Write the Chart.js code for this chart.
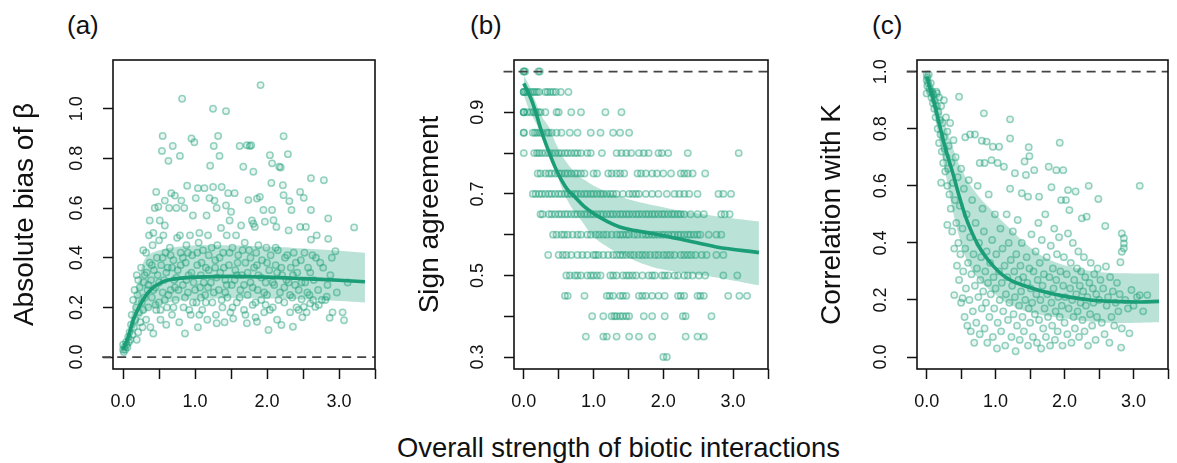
<!DOCTYPE html>
<html>
<head>
<meta charset="utf-8">
<script src="https://cdn.jsdelivr.net/npm/chart.js@4.4.1/dist/chart.umd.min.js"></script>
<style>
  body { margin: 0; width: 1177px; height: 463px; overflow: hidden; background: #fff; position: relative;
         font-family: "Liberation Sans", Arial, sans-serif; color: #111; }
  canvas { position: absolute; top: 0; }
  .txt { position: absolute; white-space: nowrap; line-height: normal; }
  .panel { font-size: 26px; top: 10px; }
</style>
</head>
<body>
<div class="txt panel" style="left:67px">(a)</div>
<div class="txt panel" style="left:470px">(b)</div>
<div class="txt panel" style="left:872px">(c)</div>
<div class="txt" style="left:397px; top:432px; font-size:27.4px">Overall strength of biotic interactions</div>
<canvas id="panelA" width="390" height="463" style="left:0"></canvas>
<canvas id="panelB" width="390" height="463" style="left:390px"></canvas>
<canvas id="panelC" width="400" height="463" style="left:780px"></canvas>
<script>
// shared x axis: ticks every 0.5, labels on whole numbers
const xTickVals = [0, 0.5, 1, 1.5, 2, 2.5, 3, 3.5];
const xTickLabels = ['0.0', '', '1.0', '', '2.0', '', '3.0', ''];

// (a) absolute bias of beta
const yTicksA = [0, 0.2, 0.4, 0.6, 0.8, 1.0];
const yLabelsA = ['0.0', '0.2', '0.4', '0.6', '0.8', '1.0'];
const biasPts = [
  [0,0.03],[0,0.05],[0.01,0.02],[0.02,0.04],[0.03,0.03],[0.04,0.06],[0.05,0.05],[0.06,0.04],[0.07,0.08],[0.08,0.06],[0.09,0.1],[0.1,0.07],
  [0.11,0.13],[0.12,0.17],[0.13,0.09],[0.14,0.23],[0.15,0.12],[0.16,0.27],[0.17,0.15],[0.18,0.2],[0.19,0.33],[0.19,0.07],[0.2,0.25],[0.21,0.31],[0.21,0.1],[0.22,0.18],[0.23,0.28],[0.24,0.14],[0.25,0.36],[0.26,0.22],[0.27,0.12],[0.28,0.43],[0.28,0.19],[0.29,0.3],[0.3,0.24],
  [0.32,0.42],[0.32,0.15],[0.33,0.34],[0.34,0.27],[0.35,0.2],[0.36,0.49],[0.37,0.55],[0.37,0.38],[0.38,0.12],[0.39,0.31],[0.4,0.24],[0.41,0.45],[0.42,0.095],[0.42,0.5],[0.43,0.35],[0.44,0.6],[0.45,0.28],[0.46,0.665],[0.46,0.19],[0.47,0.4],[0.48,0.33],[0.49,0.605],[0.5,0.22],[0.5,0.47],[0.51,0.55],[0.52,0.15],[0.53,0.37],[0.54,0.83],[0.55,0.89],[0.55,0.26],[0.56,0.49],[0.57,0.31],[0.58,0.53],[0.58,0.63],[0.59,0.42],[0.6,0.13],
  [0.61,0.2],[0.62,0.36],[0.63,0.79],[0.64,0.6],[0.65,0.44],[0.66,0.27],[0.67,0.66],[0.68,0.17],[0.69,0.85],[0.7,0.39],[0.71,0.31],[0.72,0.65],[0.73,0.23],[0.74,0.6],[0.75,0.48],[0.76,0.35],[0.78,0.14],[0.79,0.81],[0.79,0.49],[0.8,0.42],[0.81,0.63],[0.82,1.04],[0.83,0.29],[0.84,0.2],[0.85,0.6],[0.86,0.095],[0.87,0.38],[0.88,0.45],[0.89,0.69],[0.9,0.26],[0.91,0.33],[0.93,0.49],[0.94,0.17],[0.95,0.88],[0.96,0.41],[0.97,0.57],[0.98,0.3],[0.99,0.865],
  [1.01,0.64],[1.02,0.22],[1.03,0.37],[1.04,0.68],[1.04,0.12],[1.05,0.46],[1.06,0.5],[1.07,0.28],[1.08,0.33],[1.1,0.19],[1.11,0.43],[1.13,0.68],[1.14,0.25],[1.15,0.36],[1.16,0.57],[1.17,0.15],[1.18,0.49],[1.19,0.41],[1.2,0.64],[1.21,0.77],[1.22,0.3],[1.24,0.22],[1.25,1.0],[1.25,0.685],[1.26,0.85],[1.27,0.63],[1.28,0.39],[1.29,0.17],[1.3,0.6],[1.3,0.136],[1.31,0.45],[1.32,0.89],[1.33,0.27],[1.34,0.81],[1.35,0.34],[1.36,0.52],[1.37,0.685],[1.38,0.2],[1.39,0.42],[1.41,0.14],[1.42,0.31],[1.43,0.99],[1.43,0.61],[1.44,0.49],[1.45,0.24],[1.46,0.66],[1.47,0.37],[1.48,0.55],[1.49,0.18],
  [1.5,0.585],[1.51,0.29],[1.52,0.44],[1.53,0.155],[1.55,0.66],[1.56,0.35],[1.57,0.49],[1.58,0.22],[1.6,0.41],[1.62,0.85],[1.63,0.27],[1.64,0.53],[1.65,0.33],[1.67,0.766],[1.68,0.19],[1.69,0.46],[1.7,0.38],[1.72,0.853],[1.72,0.136],[1.73,0.25],[1.74,0.632],[1.75,0.43],[1.76,0.85],[1.77,0.3],[1.78,0.853],[1.79,0.55],[1.8,0.21],[1.81,0.746],[1.81,0.537],[1.82,0.36],[1.83,0.524],[1.84,0.16],[1.85,0.42],[1.86,0.638],[1.86,0.142],[1.87,0.27],[1.88,0.33],[1.9,0.645],[1.91,1.095],[1.92,0.23],[1.93,0.39],[1.95,0.592],[1.96,0.18],[1.97,0.545],[1.98,0.3],[1.99,0.44],
  [2.0,0.25],[2.02,0.109],[2.03,0.35],[2.04,0.813],[2.05,0.41],[2.06,0.701],[2.07,0.592],[2.07,0.78],[2.08,0.2],[2.09,0.551],[2.1,0.29],[2.12,0.37],[2.13,0.524],[2.14,0.15],[2.15,0.43],[2.17,0.766],[2.18,0.26],[2.19,0.763],[2.2,0.129],[2.21,0.33],[2.22,0.692],[2.23,0.889],[2.23,0.652],[2.24,0.22],[2.25,0.4],[2.27,0.31],[2.29,0.817],[2.3,0.51],[2.31,0.628],[2.32,0.18],[2.33,0.36],[2.34,0.592],[2.35,0.24],[2.36,0.122],[2.37,0.42],[2.39,0.29],[2.41,0.2],[2.42,0.34],[2.44,0.27],[2.46,0.665],[2.46,0.524],[2.47,0.39],[2.48,0.233],[2.49,0.16],
  [2.51,0.641],[2.51,0.202],[2.53,0.3],[2.54,0.524],[2.55,0.18],[2.57,0.36],[2.59,0.25],[2.6,0.216],[2.61,0.72],[2.61,0.592],[2.61,0.473],[2.63,0.41],[2.65,0.31],[2.67,0.202],[2.69,0.49],[2.71,0.27],[2.74,0.38],[2.76,0.23],[2.79,0.712],[2.81,0.23],[2.83,0.243],[2.85,0.558],[2.85,0.476],[2.87,0.158],[2.88,0.33],[2.91,0.18],[2.95,0.426],[2.97,0.26],[3.05,0.18],[3.07,0.148],[3.12,0.3],[3.21,0.522],
  [0.3,0.33],[0.35,0.29],[0.4,0.37],[0.45,0.21],[0.5,0.3],[0.55,0.4],[0.6,0.34],[0.63,0.25],[0.66,0.41],[0.7,0.2],[0.74,0.32],[0.77,0.27],[0.8,0.37],[0.83,0.4],[0.86,0.24],[0.9,0.42],[0.92,0.19],[0.95,0.34],[1.0,0.27],[1.03,0.42],[1.06,0.17],[1.09,0.38],[1.12,0.3],[1.15,0.22],[1.19,0.35],[1.23,0.44],[1.26,0.26],[1.3,0.32],[1.34,0.4],[1.37,0.23],[1.4,0.36],[1.44,0.29],[1.48,0.42],[1.52,0.2],[1.55,0.31],[1.59,0.38],[1.62,0.24],[1.66,0.43],[1.7,0.17],[1.73,0.34],[1.77,0.4],[1.8,0.28],[1.84,0.22],[1.88,0.45],[1.92,0.32],[1.96,0.26],[2.0,0.38],[2.04,0.19],[2.08,0.3],[2.12,0.44],[2.16,0.23],[2.2,0.36],[2.24,0.28],[2.28,0.41],[2.32,0.25],[2.36,0.33],[2.4,0.38],[2.44,0.19],[2.48,0.3],[2.52,0.42],[2.56,0.26],[2.6,0.34],[2.64,0.23],[2.68,0.4],[2.72,0.21],[2.78,0.36],[2.84,0.29],[2.9,0.4],
  [0.42,0.27],[0.52,0.19],[0.58,0.23],[0.68,0.36],[0.72,0.28],[0.88,0.31],[0.97,0.22],[1.08,0.24],[1.18,0.28],[1.28,0.36],[1.42,0.26],[1.58,0.33],[1.68,0.29],[1.86,0.37],[1.98,0.21],[2.14,0.34],[2.3,0.3]
];
const biasFit = [[0,0.03],[0.07,0.08],[0.14,0.148],[0.21,0.195],[0.28,0.232],[0.35,0.26],[0.42,0.281],[0.5,0.295],[0.6,0.308],[0.8,0.318],[1.0,0.322],[1.5,0.325],[2.0,0.322],[2.5,0.316],[3.0,0.309],[3.36,0.303]];
const biasHi = [[0,0.045],[0.07,0.11],[0.14,0.2],[0.21,0.3],[0.28,0.38],[0.35,0.41],[0.5,0.43],[0.8,0.445],[1.2,0.45],[2.0,0.445],[2.5,0.437],[3.0,0.428],[3.36,0.42]];
const biasLo = [[0,0.02],[0.07,0.05],[0.14,0.1],[0.21,0.14],[0.28,0.17],[0.35,0.19],[0.5,0.21],[0.8,0.228],[1.2,0.236],[2.0,0.236],[2.5,0.232],[3.0,0.226],[3.36,0.22]];

// (b) sign agreement, values fall on steps of 0.05
const yTicksB = [0.3, 0.4, 0.5, 0.6, 0.7, 0.8, 0.9];
const yLabelsB = ['0.3', '', '0.5', '', '0.7', '', '0.9'];
const signLevels = [1.0, 0.95, 0.9, 0.85, 0.8, 0.75, 0.7, 0.65, 0.6, 0.55, 0.5, 0.45, 0.4, 0.35, 0.3];
const signX = [
  [0,0,0.02,0.21,0.23],
  [0,0,0,0.03,0.06,0.1,0.13,0.16,0.19,0.22,0.31,0.34,0.38,0.42,0.46,0.53,0.64],
  [0,0,0,0.05,0.1,0.14,0.17,0.21,0.24,0.31,0.47,0.5,0.68,0.82,1.17,1.4],
  [0,0,0.13,0.16,0.19,0.23,0.26,0.33,0.36,0.4,0.47,0.54,0.66,0.77,0.96,1.1,1.28,1.38,1.51],
  [0,0.15,0.19,0.22,0.26,0.31,0.36,0.4,0.45,0.5,0.54,0.59,0.63,0.68,0.73,0.77,0.82,0.91,0.96,1.12,1.33,1.4,1.47,1.54,1.65,1.72,1.79,1.93,1.98,2.07,2.35,3.08],
  [0.2,0.24,0.31,0.36,0.4,0.45,0.5,0.54,0.59,0.63,0.68,0.73,0.77,0.82,0.87,1.0,1.05,1.21,1.26,1.33,1.38,1.44,1.63,1.68,1.75,1.84,1.91,2.0,2.11,2.25,2.3,2.35,2.42,2.6],
  [0.13,0.17,0.22,0.26,0.31,0.36,0.4,0.45,0.5,0.54,0.59,0.63,0.68,0.73,0.77,0.82,0.87,0.91,0.96,1.0,1.05,1.1,1.14,1.19,1.24,1.28,1.33,1.42,1.51,1.56,1.61,1.65,1.75,1.84,1.93,2.05,2.16,2.23,2.3,2.37,2.49,2.79,2.86,2.97],
  [0.24,0.27,0.36,0.4,0.45,0.5,0.54,0.59,0.63,0.68,0.73,0.77,0.82,0.87,0.91,0.96,1.0,1.05,1.1,1.14,1.19,1.24,1.28,1.33,1.38,1.42,1.47,1.51,1.56,1.61,1.65,1.7,1.75,1.79,1.84,1.88,1.93,1.98,2.02,2.07,2.12,2.16,2.21,2.25,2.3,2.39,2.49,2.58,2.83,2.88,2.95],
  [0.42,0.47,0.54,0.58,0.63,0.7,0.77,0.82,0.91,0.96,1.03,1.08,1.14,1.19,1.26,1.33,1.38,1.42,1.47,1.51,1.58,1.63,1.7,1.75,1.79,1.84,1.88,1.93,1.98,2.02,2.07,2.12,2.16,2.21,2.25,2.3,2.35,2.39,2.44,2.49,2.53,2.65,2.76,2.83],
  [0.35,0.5,0.56,0.61,0.68,0.77,0.84,0.91,1.0,1.03,1.07,1.14,1.21,1.28,1.33,1.38,1.42,1.47,1.53,1.58,1.65,1.7,1.75,1.81,1.88,1.93,2.0,2.05,2.1,2.16,2.25,2.3,2.35,2.4,2.46,2.55,2.62,2.76,2.86],
  [0.61,0.66,0.73,0.77,0.82,0.91,0.96,1.0,1.05,1.1,1.24,1.28,1.33,1.42,1.47,1.51,1.56,1.61,1.7,1.79,1.84,1.88,1.98,2.02,2.07,2.16,2.21,2.3,2.35,2.42,2.51,2.6,2.86,3.06],
  [0.59,0.63,0.87,1.19,1.23,1.28,1.38,1.42,1.47,1.65,1.7,1.75,1.84,1.93,2.02,2.21,2.25,2.3,2.49,2.53,2.58,2.93,3.09,3.2],
  [0.98,1.14,1.26,1.3,1.33,1.38,1.42,1.47,1.51,1.72,1.84,2.02,2.28,2.32,2.69],
  [0.89,1.14,1.19,1.33,1.51,1.65,1.84,2.32,2.49,2.58],
  [2.0,2.05]
];
const signFit = [[0,0.971],[0.1,0.935],[0.17,0.901],[0.26,0.85],[0.36,0.803],[0.45,0.765],[0.54,0.734],[0.63,0.71],[0.73,0.693],[0.86,0.67],[1.0,0.652],[1.2,0.632],[1.375,0.619],[1.6,0.61],[1.84,0.603],[2.3,0.587],[2.76,0.57],[3.37,0.556]];
const signHi = [[0,0.99],[0.08,0.965],[0.16,0.93],[0.26,0.89],[0.36,0.864],[0.47,0.82],[0.59,0.783],[0.75,0.75],[0.91,0.73],[1.1,0.712],[1.375,0.693],[1.84,0.673],[2.5,0.652],[3.37,0.632]];
const signLo = [[0,0.942],[0.08,0.905],[0.17,0.875],[0.26,0.845],[0.4,0.791],[0.54,0.717],[0.68,0.668],[0.82,0.636],[1.0,0.595],[1.2,0.57],[1.375,0.553],[1.84,0.521],[2.3,0.507],[2.76,0.495],[3.37,0.476]];

// (c) correlation with K
const yTicksC = [0, 0.2, 0.4, 0.6, 0.8, 1.0];
const yLabelsC = ['0.0', '0.2', '0.4', '0.6', '0.8', '1.0'];
const corrPts = [
  [0,0.99],[0,0.97],[0.01,0.98],[0.01,0.95],[0.02,0.96],[0,0.924],[0.03,0.99],[0.04,0.94],[0.05,0.93],[0.06,0.96],[0.07,0.91],[0.08,0.93],[0.09,0.89],[0.1,0.92],
  [0.11,0.87],[0.12,0.9],[0.13,0.84],[0.14,0.93],[0.15,0.88],[0.15,0.924],[0.16,0.8],[0.17,0.86],[0.18,0.75],[0.18,0.91],[0.19,0.83],[0.2,0.78],[0.21,0.611],[0.21,0.88],[0.22,0.72],[0.23,0.82],[0.24,0.68],[0.25,0.77],[0.25,0.9],[0.26,0.73],[0.27,0.65],[0.28,0.84],[0.29,0.7],[0.3,0.463],[0.3,0.6],[0.3,0.79],
  [0.31,0.66],[0.32,0.74],[0.33,0.57],[0.34,0.82],[0.35,0.52],[0.36,0.68],[0.37,0.44],[0.38,0.61],[0.39,0.76],[0.4,0.217],[0.4,0.38],[0.41,0.55],[0.42,0.7],[0.43,0.47],[0.44,0.32],[0.45,0.63],[0.46,0.4],[0.47,0.912],[0.47,0.27],[0.48,0.53],[0.49,0.36],[0.5,0.66],[0.5,0.19],[0.52,0.206],[0.52,0.45],[0.53,0.3],[0.54,0.59],[0.55,0.14],[0.56,0.77],[0.56,0.38],[0.57,0.24],[0.58,0.5],[0.59,0.11],[0.6,0.33],
  [0.61,0.62],[0.62,0.2],[0.63,0.78],[0.63,0.42],[0.64,0.09],[0.65,0.29],[0.66,0.55],[0.67,0.16],[0.68,0.36],[0.69,0.05],[0.7,0.78],[0.7,0.25],[0.71,0.47],[0.72,0.12],[0.73,0.31],[0.74,0.6],[0.75,0.21],[0.76,0.4],[0.77,0.68],[0.77,0.08],[0.78,0.27],[0.79,0.35],[0.8,0.758],[0.8,0.17],[0.81,0.52],[0.82,0.23],[0.83,0.854],[0.83,0.44],[0.84,0.68],[0.84,0.1],[0.85,0.3],[0.86,0.19],[0.87,0.755],[0.87,0.37],[0.88,0.05],[0.89,0.26],[0.9,0.57],[0.91,0.14],[0.92,0.33],[0.93,0.22],[0.94,0.69],[0.95,0.41],[0.96,0.737],[0.96,0.07],[0.97,0.28],[0.98,0.17],[0.99,0.5],
  [1.0,0.24],[1.01,0.36],[1.02,0.03],[1.03,0.68],[1.03,0.12],[1.05,0.737],[1.05,0.3],[1.06,0.2],[1.07,0.45],[1.08,0.09],[1.09,0.26],[1.1,0.38],[1.11,0.16],[1.12,0.667],[1.13,0.32],[1.14,0.04],[1.15,0.22],[1.16,0.5],[1.17,0.28],[1.18,0.13],[1.19,0.4],[1.2,0.19],[1.21,0.833],[1.21,0.766],[1.21,0.59],[1.22,0.34],[1.23,0.07],[1.24,0.25],[1.25,0.44],[1.26,0.15],[1.27,0.3],[1.28,0.644],[1.28,0.21],[1.29,0.02],[1.3,0.36],[1.31,0.11],[1.32,0.48],[1.33,0.27],[1.34,0.18],[1.35,0.06],[1.36,0.32],[1.37,0.23],[1.38,0.574],[1.38,0.4],[1.39,0.14],[1.4,0.28],[1.41,0.09],[1.42,0.685],[1.43,0.2],[1.44,0.638],[1.45,0.35],[1.46,0.26],[1.47,0.562],[1.47,0.04],[1.48,0.735],[1.48,0.17],[1.49,0.704],[1.49,0.31],
  [1.5,0.12],[1.51,0.24],[1.52,0.43],[1.53,0.19],[1.54,0.07],[1.55,0.3],[1.56,0.655],[1.57,0.15],[1.58,0.37],[1.59,0.22],[1.6,0.05],[1.61,0.27],[1.62,0.47],[1.63,0.562],[1.63,0.13],[1.64,0.33],[1.65,0.2],[1.66,0.03],[1.67,0.41],[1.68,0.25],[1.69,0.1],[1.7,0.29],[1.71,0.17],[1.72,0.5],[1.73,0.07],[1.74,0.35],[1.75,0.22],[1.76,0.14],[1.77,0.667],[1.78,0.28],[1.79,0.04],[1.8,0.39],[1.81,0.595],[1.81,0.19],[1.82,0.11],[1.83,0.31],[1.84,0.24],[1.85,0.45],[1.86,0.06],[1.87,0.16],[1.88,0.655],[1.88,0.27],[1.89,0.36],[1.9,0.09],[1.91,0.21],[1.92,0.42],[1.93,0.751],[1.93,0.14],[1.94,0.3],[1.95,0.55],[1.96,0.18],[1.97,0.04],[1.98,0.655],[1.98,0.25],[1.99,0.35],
  [2.0,0.12],[2.01,0.21],[2.02,0.55],[2.03,0.29],[2.04,0.08],[2.05,0.585],[2.05,0.433],[2.06,0.17],[2.07,0.515],[2.08,0.24],[2.09,0.33],[2.1,0.05],[2.11,0.2],[2.12,0.4],[2.13,0.14],[2.14,0.27],[2.15,0.1],[2.16,0.58],[2.17,0.22],[2.18,0.31],[2.19,0.16],[2.2,0.37],[2.21,0.07],[2.22,0.25],[2.23,0.19],[2.24,0.3],[2.25,0.486],[2.26,0.13],[2.27,0.23],[2.28,0.35],[2.29,0.09],[2.3,0.28],[2.31,0.18],[2.32,0.492],[2.33,0.21],[2.34,0.04],[2.35,0.6],[2.36,0.26],[2.37,0.15],[2.38,0.33],[2.4,0.11],[2.41,0.24],[2.42,0.19],[2.43,0.29],[2.45,0.06],[2.46,0.22],[2.47,0.14],[2.48,0.31],[2.49,0.554],
  [2.5,0.2],[2.52,0.27],[2.54,0.12],[2.56,0.24],[2.58,0.08],[2.59,0.459],[2.6,0.317],[2.61,0.18],[2.63,0.21],[2.65,0.05],[2.66,0.28],[2.68,0.14],[2.7,0.23],[2.72,0.11],[2.74,0.19],[2.76,0.26],[2.78,0.16],[2.8,0.22],[2.81,0.332],[2.82,0.033],[2.83,0.433],[2.83,0.369],[2.83,0.1],[2.86,0.416],[2.86,0.398],[2.86,0.381],[2.88,0.2],[2.92,0.17],[2.94,0.083],[2.97,0.235],[3.0,0.18],[3.05,0.21],[3.09,0.217],[3.09,0.6],[3.14,0.16],[3.2,0.217]
];
const corrFit = [[0,0.982],[0.1,0.9],[0.19,0.81],[0.28,0.725],[0.38,0.644],[0.47,0.565],[0.56,0.495],[0.65,0.44],[0.75,0.39],[0.86,0.35],[0.98,0.315],[1.1,0.288],[1.25,0.265],[1.44,0.248],[1.65,0.232],[1.91,0.217],[2.37,0.2],[2.83,0.194],[3.1,0.193],[3.37,0.195]];
const corrHi = [[0,1.0],[0.1,0.95],[0.2,0.87],[0.3,0.79],[0.4,0.72],[0.5,0.66],[0.7,0.58],[1.0,0.5],[1.25,0.44],[1.5,0.385],[1.75,0.345],[2.0,0.322],[2.5,0.298],[3.0,0.293],[3.37,0.293]];
const corrLo = [[0,0.95],[0.1,0.86],[0.2,0.74],[0.3,0.61],[0.4,0.49],[0.5,0.4],[0.62,0.32],[0.8,0.26],[0.94,0.23],[1.2,0.185],[1.54,0.154],[2.0,0.135],[2.65,0.12],[3.37,0.122]];

const GREEN = '#1b9e77';
const xy = arr => arr.map(p => ({x: p[0], y: p[1]}));

Chart.defaults.font.family = '"Liberation Sans", Arial, sans-serif';
Chart.defaults.color = '#111';

// R-style box round the plotting region
const boxPlugin = {
  id: 'box',
  afterDraw(chart) {
    const {ctx, chartArea: a} = chart;
    ctx.save();
    ctx.strokeStyle = '#111';
    ctx.lineWidth = 1.6;
    ctx.strokeRect(a.left, a.top, a.right - a.left, a.bottom - a.top);
    ctx.restore();
  }
};

function makePanel(id, p) {
  const tickGrid = { drawOnChartArea: false, drawTicks: true, tickLength: 10, tickWidth: 1.5, tickColor: '#111' };
  new Chart(document.getElementById(id), {
    type: 'scatter',
    data: {
      datasets: [
        { type: 'line', data: xy(p.fit), borderColor: GREEN, borderWidth: 3.6, pointRadius: 0, tension: 0.4, order: 0 },
        { type: 'line', data: xy([[-0.29, p.ref], [3.5, p.ref]]), borderColor: '#444', borderWidth: 1.7,
          borderDash: [9, 6], pointRadius: 0, clip: false, order: 1 },
        { type: 'line', data: xy(p.hi), borderColor: 'transparent', borderWidth: 0, pointRadius: 0, tension: 0.4,
          fill: '+1', backgroundColor: 'rgba(27,158,119,0.3)', order: 2 },
        { type: 'line', data: xy(p.lo), borderColor: 'transparent', borderWidth: 0, pointRadius: 0, tension: 0.4,
          fill: false, order: 2 },
        { data: xy(p.pts), pointRadius: 3.2, borderWidth: 1.5, pointBorderColor: 'rgba(27,158,119,0.45)',
          pointBackgroundColor: 'rgba(27,158,119,0.1)', order: 3 }
      ]
    },
    options: {
      responsive: false,
      animation: false,
      events: [],
      layout: { padding: { top: 60, right: p.padRight, left: 0, bottom: 0 } },
      plugins: { legend: { display: false }, tooltip: { enabled: false } },
      scales: {
        x: {
          type: 'linear', min: -0.14, max: 3.5,
          afterBuildTicks: s => { s.ticks = xTickVals.map(v => ({value: v})); },
          afterFit: s => { s.height = 94; },
          ticks: { autoSkip: false, maxRotation: 0, padding: 12, font: { size: 18 },
                   callback: (v, i) => xTickLabels[i] },
          grid: tickGrid,
          border: { display: false }
        },
        y: {
          min: p.yMin, max: p.yMax,
          afterBuildTicks: s => { s.ticks = p.yTicks.map(v => ({value: v})); },
          afterFit: s => { s.width = p.axisLeft; },
          ticks: { autoSkip: false, minRotation: 90, maxRotation: 90, crossAlign: 'center', padding: 13,
                   font: { size: 18 }, callback: (v, i) => p.yLabels[i] },
          grid: tickGrid,
          border: { display: false },
          title: { display: true, text: p.title, font: { size: 28 }, padding: { top: p.titlePad, bottom: 0 } }
        }
      }
    },
    plugins: [boxPlugin]
  });
}

makePanel('panelA', {
  pts: biasPts, fit: biasFit, hi: biasHi, lo: biasLo, ref: 0,
  yMin: -0.048, yMax: 1.196, yTicks: yTicksA, yLabels: yLabelsA,
  title: 'Absolute bias of β', titlePad: 8, axisLeft: 113, padRight: 15
});

makePanel('panelB', {
  pts: signLevels.flatMap((lv, i) => signX[i].map(x => [x, lv])), fit: signFit, hi: signHi, lo: signLo, ref: 1,
  yMin: 0.2706, yMax: 1.0283, yTicks: yTicksB, yLabels: yLabelsB,
  title: 'Sign agreement', titlePad: 23, axisLeft: 124, padRight: 4
});

makePanel('panelC', {
  pts: corrPts, fit: corrFit, hi: corrHi, lo: corrLo, ref: 1,
  yMin: -0.042, yMax: 1.041, yTicks: yTicksC, yLabels: yLabelsC,
  title: 'Correlation with K', titlePad: 35, axisLeft: 137, padRight: 2
});
</script>
</body>
</html>
